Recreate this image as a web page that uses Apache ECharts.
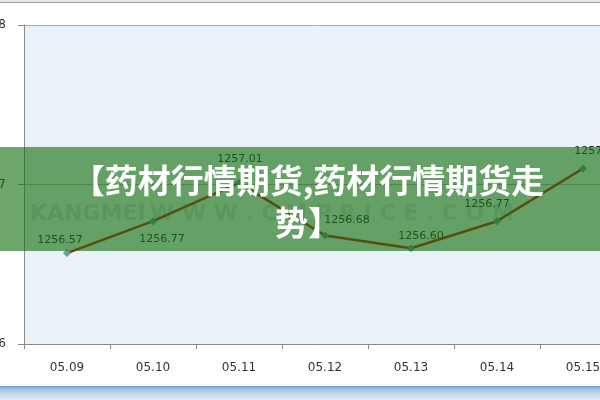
<!DOCTYPE html>
<html>
<head>
<meta charset="utf-8">
<script src="https://cdn.jsdelivr.net/npm/echarts@6/dist/echarts.min.js"></script>
<style>
html,body{margin:0;padding:0;background:#fff;}
#c{width:600px;height:400px;}
</style>
</head>
<body>
<div id="c"></div>
<script>
var categories = ['05.09','05.10','05.11','05.12','05.13','05.14','05.15'];
var prices = [1256.57, 1256.77, 1257.01, 1256.68, 1256.60, 1256.77, 1257.10];
var yTicks = { min: 1256, max: 1258, interval: 1 };
var titleText = '【药材行情期货,药材行情期货走\n势】';
var watermark1 = 'KANGMEI';
var watermark2 = 'W W W . C M P R I C E . C O M';

// label offsets (style only): [dx, dy] of label center from point
var labelOffsets = [[-7,-13],[9,18],[1,-24],[22,-15],[10,-12],[-10,-17],[14,-17]];

var chart = echarts.init(document.getElementById('c'), null, {renderer:'canvas'});

var seriesData = prices.map(function(v, i){
  return {
    value: v,
    label: { offset: [labelOffsets[i][0], labelOffsets[i][1]] }
  };
});

chart.setOption({
  animation: false,
  backgroundColor: '#ffffff',
  grid: { left: 24, top: 25, right: -26, bottom: 56, containLabel: false, outerBoundsMode: 'none',
          show: true, backgroundColor: '#e9f2f8', borderWidth: 0 },
  xAxis: {
    type: 'category',
    data: categories,
    boundaryGap: true,
    axisLine: { lineStyle: { color: '#8a8a8a', width: 1 } },
    axisTick: { show: true, length: 5, alignWithLabel: false, lineStyle: { color: '#8a8a8a' } },
    axisLabel: { color: '#333', fontSize: 12, fontFamily: 'DejaVu Sans', margin: 18 },
    splitLine: { show: false }
  },
  yAxis: {
    type: 'value',
    min: yTicks.min, max: yTicks.max, interval: yTicks.interval,
    axisLine: { show: true, lineStyle: { color: '#8a8a8a', width: 1 } },
    axisTick: { show: true, length: 6, lineStyle: { color: '#8a8a8a' } },
    axisLabel: { color: '#333', fontSize: 12, fontFamily: 'DejaVu Sans', margin: 18,
                 formatter: function(v){ return String(v); } },
    splitLine: { show: true, lineStyle: { color: '#a8a8a8', width: 1 } }
  },
  series: [{
    type: 'line',
    data: seriesData,
    symbol: 'diamond',
    symbolSize: 7,
    showAllSymbol: true,
    lineStyle: { color: '#c41a10', width: 2.5 },
    itemStyle: { color: '#5f9ea0', borderColor: '#5f9ea0' },
    label: {
      show: true,
      position: 'inside',
      color: '#2a2a2a',
      fontSize: 11,
      fontFamily: 'DejaVu Sans',
      formatter: function(p){ return p.value.toFixed(2); }
    },
    z: 3
  }],
  graphic: [
    { type: 'rect', z: 50, shape: { x: 0, y: 0, width: 600, height: 2 }, style: { fill: '#e8e8e8' } },
    { type: 'rect', z: 50, shape: { x: 0, y: 2, width: 600, height: 1 }, style: { fill: '#a0a0a0' } },
    { type: 'rect', z: 50, shape: { x: 0, y: 386, width: 600, height: 14 },
      style: { fill: { type: 'linear', x: 0, y: 0, x2: 0, y2: 1,
        colorStops: [{offset:0,color:'#6f9ccc'},{offset:0.25,color:'#a9c8e8'},{offset:1,color:'#e4eef9'}] } } },
    { type: 'text', z: 40, left: 30, top: 203,
      style: { text: watermark1, fill: 'rgba(90,110,100,0.2)', font: 'bold 22px "DejaVu Sans"' } },
    { type: 'text', z: 40, left: 150, top: 203,
      style: { text: watermark2, fill: 'rgba(90,110,100,0.18)', font: 'bold 22px "DejaVu Sans"' } },
    { type: 'rect', z: 100, shape: { x: 0, y: 147, width: 600, height: 104 },
      style: { fill: 'rgba(20,110,15,0.62)' } },
    { type: 'text', z: 101, x: 308, y: 201,
      style: { text: titleText, fill: '#ffffff', font: 'bold 33px "Noto Sans CJK SC"',
        textAlign: 'center', textVerticalAlign: 'middle', lineHeight: 42 } }
  ]
});
</script>
</body>
</html>
